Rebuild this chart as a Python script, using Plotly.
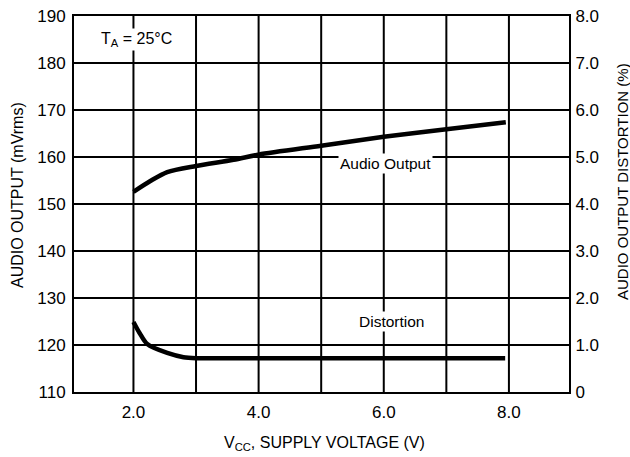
import plotly.graph_objects as go

# Data
vcc_audio = [2.0, 2.27, 2.54, 3.0, 3.6, 4.0, 5.0, 6.0, 7.0, 7.95]
audio_mv = [152.6, 154.9, 156.8, 158.1, 159.4, 160.5, 162.4, 164.3, 165.9, 167.4]

vcc_dist = [2.0, 2.1, 2.22, 2.54, 2.8, 3.0, 3.5, 4.0, 5.0, 6.0, 7.0, 7.94]
dist_pct = [1.49, 1.25, 1.02, 0.83, 0.74, 0.72, 0.72, 0.72, 0.72, 0.72, 0.72, 0.72]

left_ticks = [110, 120, 130, 140, 150, 160, 170, 180, 190]
right_ticks = [0, 1, 2, 3, 4, 5, 6, 7, 8]
right_labels = ["0", "1.0", "2.0", "3.0", "4.0", "5.0", "6.0", "7.0", "8.0"]
x_ticks = [2, 4, 6, 8]
x_labels = ["2.0", "4.0", "6.0", "8.0"]
x_grid = [2, 3, 4, 5, 6, 7, 8]

FONT = "Liberation Sans, Arial, sans-serif"

fig = go.Figure()
fig.add_trace(go.Scatter(x=vcc_audio, y=audio_mv, mode="lines",
                         line=dict(color="black", width=4.5, shape="spline", smoothing=0.8),
                         showlegend=False, yaxis="y"))
fig.add_trace(go.Scatter(x=vcc_dist, y=dist_pct, mode="lines",
                         line=dict(color="black", width=4.5, shape="spline", smoothing=0.8),
                         showlegend=False, yaxis="y2"))

# vertical gridlines every 1 V
for xv in x_grid:
    fig.add_shape(type="line", xref="x", yref="paper", x0=xv, x1=xv, y0=0, y1=1,
                  line=dict(color="black", width=2), layer="below")

fig.update_layout(
    width=630, height=457,
    margin=dict(l=74, r=61, t=16, b=65, autoexpand=False),
    paper_bgcolor="white", plot_bgcolor="white",
    font=dict(family=FONT, color="black", size=17),
    xaxis=dict(range=[1.05, 8.96], tickvals=x_ticks, ticktext=x_labels,
               showgrid=False, zeroline=False, showline=True, linecolor="black",
               linewidth=2, mirror=True, ticks="", ticklen=0, tickfont=dict(size=17),
               ticklabelstandoff=4, automargin=False),
    yaxis=dict(range=[110, 190], tickvals=left_ticks, showgrid=True, gridcolor="black",
               gridwidth=2, zeroline=False, showline=True, linecolor="black", linewidth=2,
               mirror=True, ticks="", ticklen=0, tickfont=dict(size=17),
               ticklabelstandoff=3, automargin=False),
    yaxis2=dict(range=[0, 8], tickvals=right_ticks, ticktext=right_labels, overlaying="y",
                side="right", showgrid=False, zeroline=False, showline=False,
                ticks="outside", ticklen=0, tickwidth=0, tickcolor="rgba(0,0,0,0)",
                tickfont=dict(size=17), ticklabelstandoff=2, automargin=False),
)

# axis titles
fig.add_annotation(x=-0.113, y=0.524, xref="paper", yref="paper", text="AUDIO OUTPUT (mVrms)",
                   textangle=-90, showarrow=False, font=dict(size=16),
                   xanchor="center", yanchor="middle")
fig.add_annotation(x=1.107, y=0.561, xref="paper", yref="paper",
                   text="AUDIO OUTPUT DISTORTION (%)",
                   textangle=-90, showarrow=False, font=dict(size=15),
                   xanchor="center", yanchor="middle")
fig.add_annotation(x=0.507, y=-0.136, xref="paper", yref="paper",
                   text="V<sub>CC</sub>, SUPPLY VOLTAGE (V)",
                   showarrow=False, font=dict(size=16), xanchor="center", yanchor="middle")

# in-plot labels
fig.add_annotation(x=2.05, y=185.0, xref="x", yref="y", text="T<sub>A</sub> = 25°C",
                   showarrow=False, bgcolor="white", font=dict(size=16))
fig.add_annotation(x=6.02, y=158.7, xref="x", yref="y", text="Audio Output",
                   showarrow=False, bgcolor="white", font=dict(size=15.5))
fig.add_annotation(x=6.12, y=124.9, xref="x", yref="y", text="Distortion",
                   showarrow=False, bgcolor="white", font=dict(size=15.5))

fig.write_html("out.html", config={"displayModeBar": False},
               post_script="document.body.style.margin='0px';")
